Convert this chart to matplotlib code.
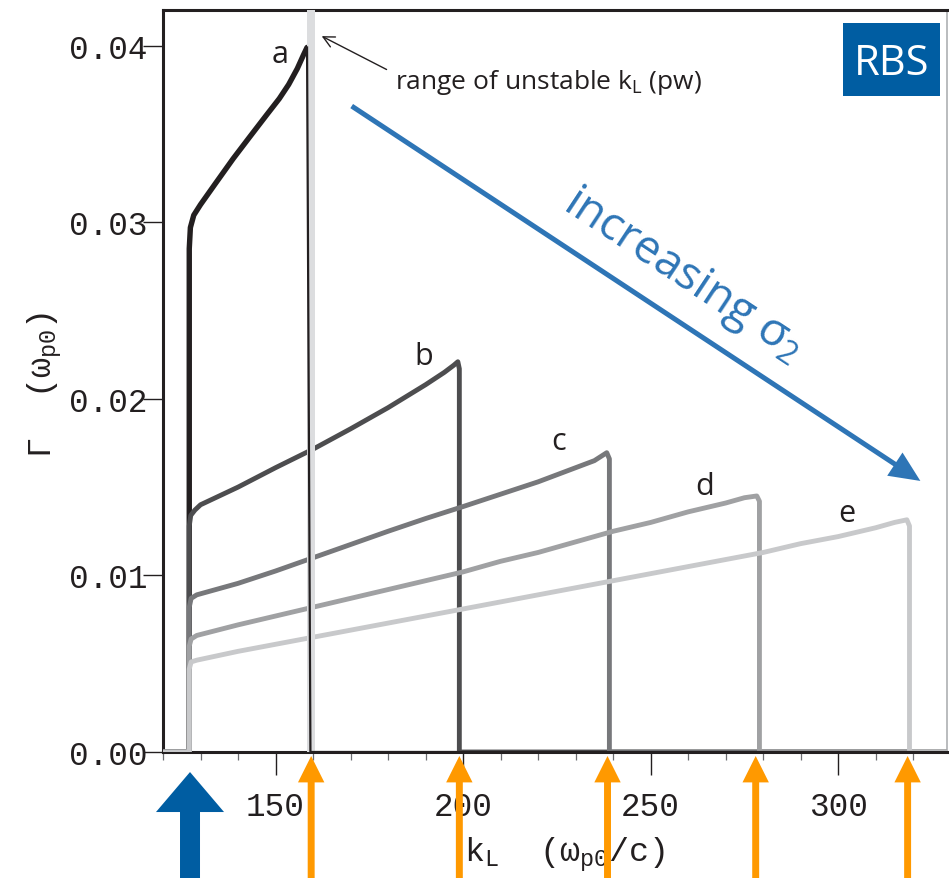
import matplotlib
matplotlib.use("Agg")
import matplotlib.pyplot as plt
from matplotlib.patches import Rectangle
from matplotlib.ticker import FixedLocator, MultipleLocator

# ---------------- data ----------------
a_k = [120, 127, 127, 127.3, 128.2, 130, 134, 138.7, 143, 147.7, 151, 153.5, 155.8, 157.5, 158.4]
a_g = [0, 0, 0.0285, 0.0297, 0.0304, 0.0310, 0.0322, 0.0336, 0.0348, 0.0361, 0.0370, 0.0378, 0.0387, 0.0395, 0.0399]
a_drop_k = [158.4, 159.3, 159.3, 329]
a_drop_g = [0.0399, 0.0, 0.0, 0.0]

b_k = [120, 127, 127, 127.4, 128.5, 130, 140, 150, 160, 170, 180, 190, 195, 197.5, 198.6, 199.0, 199.0, 329]
b_g = [0, 0, 0.0128, 0.0134, 0.0137, 0.0140, 0.0150, 0.0161, 0.01715, 0.0183, 0.0195, 0.0208, 0.0215,
       0.0219, 0.0221, 0.0217, 0.0, 0.0]

c_k = [120, 127, 127, 127.5, 129, 140, 150, 160, 170, 180, 190, 200, 210, 220, 230, 235, 238.3, 239.0, 239.0, 329]
c_g = [0, 0, 0.0082, 0.0087, 0.0089, 0.00955, 0.01025, 0.0110, 0.01175, 0.0125, 0.01322, 0.0139, 0.0146,
       0.0153, 0.0161, 0.0165, 0.01695, 0.0166, 0.0, 0.0]

d_k = [120, 127, 127, 127.5, 129, 140, 150, 160, 170, 180, 190, 200, 210, 220, 230, 240, 250, 260, 270,
       275, 278.3, 279.0, 279.0, 329]
d_g = [0, 0, 0.0060, 0.0064, 0.0066, 0.0072, 0.0077, 0.0082, 0.0087, 0.0092, 0.0097, 0.0102, 0.0108,
       0.0113, 0.0119, 0.0125, 0.0130, 0.0136, 0.0141, 0.0144, 0.0145, 0.0142, 0.0, 0.0]

e_k = [120, 127, 127, 127.5, 129, 140, 150, 160, 170, 180, 190, 200, 210, 220, 230, 240, 250, 260, 270,
       280, 290, 300, 310, 315, 318.3, 319.0, 319.0, 329]
e_g = [0, 0, 0.0047, 0.0051, 0.0052, 0.0057, 0.0061, 0.0065, 0.0069, 0.0073, 0.0077, 0.0081, 0.0085,
       0.0089, 0.0093, 0.0097, 0.0101, 0.0105, 0.0109, 0.0113, 0.0118, 0.0122, 0.0127, 0.0130, 0.01315,
       0.0128, 0.0, 0.0]

curve_names = ["a", "b", "c", "d", "e"]
curve_colors = ["#231f20", "#4d4d4f", "#77787b", "#a0a1a3", "#c8c9cb"]
label_k = [151.2, 189.5, 225.5, 264.3, 302.4]
label_g = [0.0391, 0.02196, 0.01715, 0.0146, 0.01309]

band_k = [158.4, 160.5]            # range of unstable k_L (pw)
pump_k = [159.5, 199, 238.5, 278, 318.5]   # orange arrows
seed_k = 127.2                     # blue arrow

x_major = [150, 200, 250, 300]
x_labels = ["150", "200", "250", "300"]
y_major = [0.00, 0.01, 0.02, 0.03, 0.04]
y_labels = ["0.00", "0.01", "0.02", "0.03", "0.04"]

MONO = "Liberation Mono"
SANS = "Open Sans"
DARK = "#231f20"
BLUE = "#2e75b6"
NAVY = "#005da2"
ORANGE = "#ff9900"

# ---------------- figure ----------------
fig = plt.figure(figsize=(9.49, 8.79), dpi=100)
ax = fig.add_axes([163 / 949, 126 / 879, 784 / 949, 742 / 879])
ax.set_xlim(120, 329)
ax.set_ylim(0, 0.04202)

series = [(a_k, a_g), (b_k, b_g), (c_k, c_g), (d_k, d_g), (e_k, e_g)]
for i, ((kk, gg), col) in enumerate(zip(series, curve_colors)):
    ax.plot(kk, gg, color=col, lw=3.9 if i == 0 else 3.5, solid_joinstyle="round",
            solid_capstyle="round", zorder=2 + i)

ax.axvspan(band_k[0], band_k[1], color="#dcdddf", lw=0, zorder=8)
ax.plot(a_drop_k, a_drop_g, color=curve_colors[0], lw=1.6, zorder=9)

for name, kx, gy in zip(curve_names, label_k, label_g):
    ax.text(kx, gy, name, fontfamily=SANS, fontsize=22, color=DARK, ha="center", va="baseline", zorder=10)

# annotation
ax.annotate("", xy=(162.3, 0.04054), xytext=(179.6, 0.03865),
            arrowprops=dict(arrowstyle="->", lw=1.0, color=DARK, shrinkA=0, shrinkB=0, mutation_scale=20),
            zorder=10)
ax.text(181.9, 0.03763, "range of unstable k$_\\mathregular{L}$ (pw)", fontfamily=SANS, fontsize=19,
        color=DARK, va="baseline", ha="left", zorder=10)

# increasing sigma arrow
ax.annotate("", xy=(321.9, 0.01535), xytext=(170.3, 0.03658),
            arrowprops=dict(arrowstyle="simple,head_length=2.2,head_width=2.0,tail_width=0.36",
                            color=BLUE, lw=0, shrinkA=0, shrinkB=0, mutation_scale=10), zorder=10)
ax.text(258.7, 0.02705, "increasing σ$_\\mathregular{2}$", fontfamily=SANS, fontsize=33, color=BLUE,
        rotation=-33.4, rotation_mode="anchor", ha="center", va="center", zorder=10)

# RBS box
ax.add_patch(Rectangle((0.8673, 0.8841), 0.1237, 0.0984, transform=ax.transAxes,
                       facecolor=NAVY, edgecolor="none", zorder=10))
ax.text(0.9292, 0.9137, "RBS", transform=ax.transAxes, fontfamily=SANS, fontsize=30, color="white",
        ha="center", va="baseline", zorder=11)

# arrows below the axis
trans = ax.get_xaxis_transform()
for kx in pump_k:
    ax.annotate("", xy=(kx, -0.0054), xytext=(kx, -0.19), xycoords=trans, textcoords=trans,
                arrowprops=dict(arrowstyle="simple,head_length=1.9,head_width=1.9,tail_width=0.5",
                                color=ORANGE, lw=0, shrinkA=0, shrinkB=0, mutation_scale=10),
                annotation_clip=False, zorder=12)
ax.annotate("", xy=(seed_k, -0.027), xytext=(seed_k, -0.19), xycoords=trans, textcoords=trans,
            arrowprops=dict(arrowstyle="simple,head_length=2.88,head_width=4.9,tail_width=1.44",
                            color=NAVY, lw=0, shrinkA=0, shrinkB=0, mutation_scale=10),
            annotation_clip=False, zorder=12)

# ticks
ax.xaxis.set_major_locator(FixedLocator(x_major))
ax.set_xticklabels(x_labels)
ax.xaxis.set_minor_locator(MultipleLocator(10))
ax.yaxis.set_major_locator(FixedLocator(y_major))
ax.set_yticklabels(y_labels)
ax.tick_params(axis="x", which="major", direction="out", length=16.5, width=1.0, pad=11.5,
               color=DARK, labelcolor=DARK, labelsize=23.5)
ax.tick_params(axis="x", which="minor", direction="out", length=5.8, width=0.9, color="#6d6e71")
ax.tick_params(axis="y", which="major", direction="out", length=14.4, width=1.0, pad=-3,
               color=DARK, labelcolor=DARK, labelsize=23.5)
for lab in ax.get_xticklabels() + ax.get_yticklabels():
    lab.set_fontfamily(MONO)

for side in ["left", "bottom", "top"]:
    ax.spines[side].set_linewidth(2.2)
    ax.spines[side].set_color(DARK)
ax.spines["right"].set_linewidth(1.1)
ax.spines["right"].set_color("#a7a9ac")

ax.set_xlabel("k$_\\mathregular{L}$  (ω$_\\mathregular{p0}$/c)", fontfamily=MONO, fontsize=24, color=DARK)
ax.xaxis.set_label_coords(0.5128, -0.1105)
ax.set_ylabel("Γ  (ω$_\\mathregular{p0}$)", fontfamily=MONO, fontsize=24, color=DARK)
ax.yaxis.set_label_coords(-0.126, 0.496)

fig.savefig("out.png", dpi=100)
